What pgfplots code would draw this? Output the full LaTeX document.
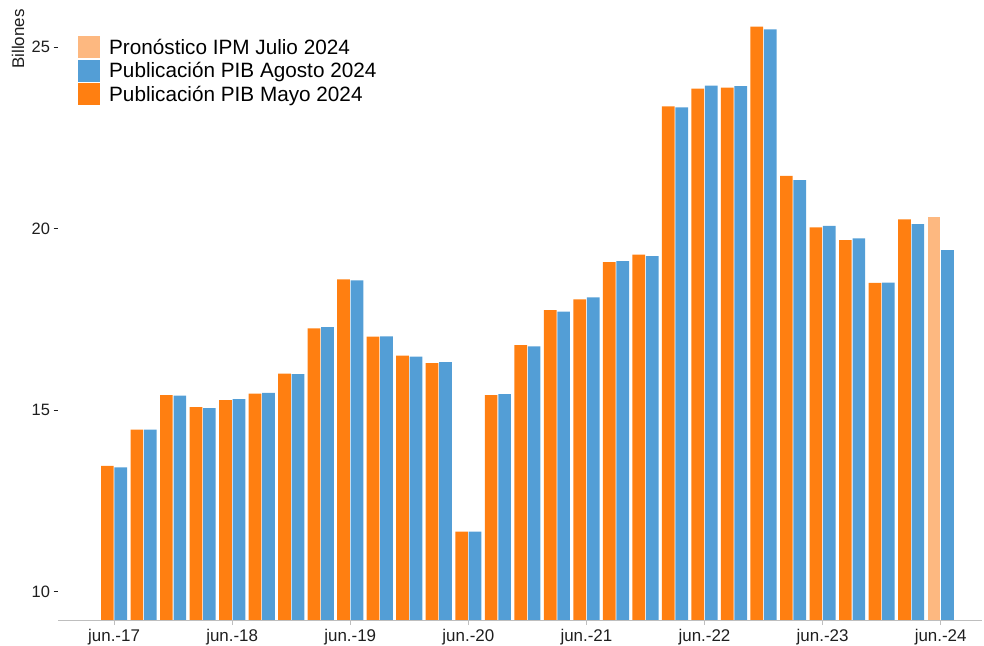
\documentclass[border=0pt]{standalone}
\usepackage{pgfplots}
\pgfplotsset{compat=1.18}
\usepackage{fontspec}
\setmainfont{Liberation Sans}
\definecolor{cOrange}{RGB}{255,127,17}
\definecolor{cBlue}{RGB}{83,158,214}
\definecolor{cLight}{RGB}{253,184,128}
\definecolor{cAxis}{RGB}{190,190,190}
\definecolor{cText}{RGB}{30,30,30}
\begin{document}
\begin{tikzpicture}
\useasboundingbox (0,0) rectangle (984bp,646bp);
\begin{axis}[
  at={(58bp,25.3bp)}, anchor=south west,
  scale only axis, width=924bp, height=620.7bp,
  xmin=-1.9, xmax=29.4, ymin=9.2, ymax=26.29,
  axis line style={draw=none},
  xtick={0,4,8,12,16,20,24,28},
  xticklabels={jun.-17,jun.-18,jun.-19,jun.-20,jun.-21,jun.-22,jun.-23,jun.-24},
  ytick={10,15,20,25},
  xtick pos=bottom, ytick pos=left,
  tick align=outside, major tick length=4.5bp,
  xtick style={cAxis, line width=0.8pt},
  ytick style={cText, line width=0.6pt},
  xticklabel style={font=\fontsize{17}{20}\selectfont, text=cText, yshift=-1bp},
  yticklabel style={font=\fontsize{16.5}{19}\selectfont, text=cText},
  /pgf/number format/assume math mode=true,
  bar width=0.43,
  legend style={at={(0.0216,0.942)}, anchor=north west, draw=none, fill=none,
    font=\fontsize{20.8}{24}\selectfont, inner sep=0pt, row sep=1.5bp},
  legend cell align=left,
  legend image code/.code={\fill[#1,draw=none] (0bp,-11bp) rectangle (22bp,11bp); \path (29bp,0bp);},
]
\addplot[ybar, bar shift=-0.228, fill=cLight, draw=none] coordinates {(28,20.32)};
\addlegendentry{Pronóstico IPM Julio 2024}
\addplot[ybar, bar shift=0.228, fill=cBlue, draw=none] coordinates {
(0,13.42) (1,14.46) (2,15.40) (3,15.05) (4,15.30) (5,15.47) (6,15.99) (7,17.28)
(8,18.57) (9,17.03) (10,16.47) (11,16.32) (12,11.65) (13,15.44) (14,16.75) (15,17.71)
(16,18.10) (17,19.10) (18,19.24) (19,23.33) (20,23.93) (21,23.92) (22,25.48) (23,21.33)
(24,20.07) (25,19.73) (26,18.51) (27,20.12) (28,19.40)};
\addlegendentry{Publicación PIB Agosto 2024}
\addplot[ybar, bar shift=-0.228, fill=cOrange, draw=none] coordinates {
(0,13.46) (1,14.46) (2,15.41) (3,15.08) (4,15.27) (5,15.45) (6,16.00) (7,17.25)
(8,18.60) (9,17.02) (10,16.50) (11,16.29) (12,11.65) (13,15.41) (14,16.79) (15,17.75)
(16,18.05) (17,19.07) (18,19.28) (19,23.36) (20,23.85) (21,23.88) (22,25.56) (23,21.45)
(24,20.03) (25,19.68) (26,18.50) (27,20.25)};
\addlegendentry{Publicación PIB Mayo 2024}
\draw[cAxis, line width=0.8pt] (rel axis cs:0,0) -- (rel axis cs:1,0);
\end{axis}
\node[rotate=90, text=cText, font=\fontsize{17}{20}\selectfont] at (18bp,607bp) {Billones};
\end{tikzpicture}
\end{document}
